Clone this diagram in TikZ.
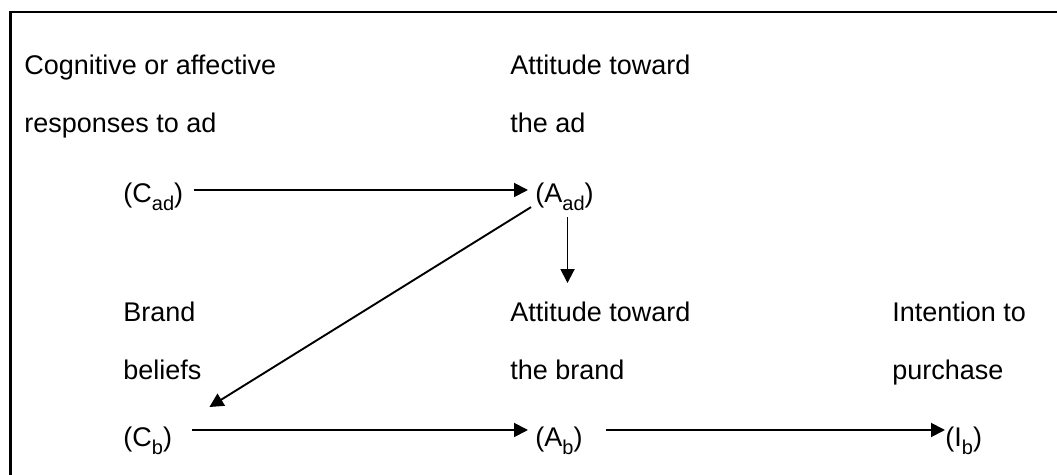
\documentclass[tikz,border=0pt]{standalone}
\usepackage{fontspec}
\setmainfont{Liberation Sans}
\usetikzlibrary{arrows.meta}
\newcommand\lowsub[1]{\raisebox{-0.28em}{\fontsize{10}{12}\selectfont #1}}

\begin{document}
\begin{tikzpicture}[x=0.5pt,y=-0.5pt,
        lbl/.style={anchor=base west,inner sep=0pt,font=\fontsize{13.5}{16}\selectfont},
        arr/.style={line width=0.95pt,-{Triangle[length=7pt,width=7pt]}}]
        \useasboundingbox (0,0) rectangle (1057,475);
        \draw[line width=1.1pt] (10.5,12) rectangle (1090,500);
        % top row: responses and attitude toward the ad
        \node[lbl] (cog1) at (24,75) {Cognitive or affective};
        \node[lbl] (cog2) at (24,133) {responses to ad};
        \node[lbl] (cad) at (123,203) {(C\lowsub{ad})};
        \node[lbl] (att1) at (510,75) {Attitude toward};
        \node[lbl] (att2) at (510,133) {the ad};
        \node[lbl] (aad) at (535,203) {(A\lowsub{ad})};
        % bottom row: beliefs, brand attitude, intention
        \node[lbl] (brand1) at (123,322) {Brand};
        \node[lbl] (brand2) at (123,380) {beliefs};
        \node[lbl] (cb) at (123,447) {(C\lowsub{b})};
        \node[lbl] (attb1) at (510,322) {Attitude toward};
        \node[lbl] (attb2) at (510,380) {the brand};
        \node[lbl] (ab) at (535,447) {(A\lowsub{b})};
        \node[lbl] (int1) at (892,322) {Intention to};
        \node[lbl] (int2) at (892,380) {purchase};
        \node[lbl] (ib) at (945,447) {(I\lowsub{b})};
        % links
        \draw[arr,shorten <=5pt,shorten >=3.5pt] ([yshift=6.5pt]cad.base east) -- ([yshift=6.5pt]aad.base west);
        \draw[arr,shorten <=3pt,shorten >=9.5pt] ([xshift=1.5pt]aad.south) -- ([xshift=1.5pt]aad.south |- attb1.north);
        \draw[arr] ([xshift=-2pt,yshift=2pt]aad.south west) -- ([xshift=18.5pt,yshift=10pt]cb.north east);
        \draw[arr,shorten <=10pt,shorten >=3.5pt] ([yshift=8.5pt]cb.base east) -- ([yshift=8.5pt]ab.base west);
        \draw[arr,shorten <=11.5pt] ([yshift=8.5pt]ab.base east) -- ([yshift=8.5pt]ib.base west);
\end{tikzpicture}
\end{document}
